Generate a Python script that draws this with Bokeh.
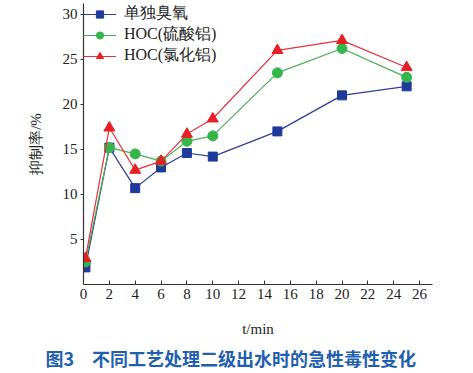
from bokeh.plotting import figure
from bokeh.models import FixedTicker, Range1d, Title
from bokeh.embed import file_html
from bokeh.resources import INLINE

t = [0.15, 2, 4, 6, 8, 10, 15, 20, 25]
ozone = [1.9, 15.2, 10.7, 13.0, 14.6, 14.2, 17.0, 21.0, 22.0]
hoc_al2so4 = [2.5, 15.2, 14.5, 13.7, 15.9, 16.5, 23.5, 26.2, 23.0]
hoc_alcl3 = [2.9, 17.4, 12.7, 13.7, 16.7, 18.4, 26.0, 27.1, 24.1]
names = ["单独臭氧", "HOC(硫酸铝)", "HOC(氯化铝)"]
x_ticks = list(range(0, 27, 2))
y_ticks = [5, 10, 15, 20, 25, 30]
caption = "图3　不同工艺处理二级出水时的急性毒性变化"

p = figure(width=473, height=373, output_backend="svg", toolbar_location=None,
           x_range=Range1d(0, 27), y_range=Range1d(0, 31.2),
           min_border_left=83, min_border_right=41, min_border_top=3, min_border_bottom=0)
p.outline_line_color = None
p.grid.visible = False
p.background_fill_color = "white"
p.border_fill_color = "white"

blue_l, blue_m = "#2b3f99", "#1f3a9a"
green_l, green_m = "#4aae55", "#36b54a"
red_l, red_m = "#e8313a", "#e61e26"

p.line(t, ozone, color=blue_l, line_width=1.2, legend_label=names[0])
p.scatter(t, ozone, marker="square", size=9, fill_color=blue_m, line_color=blue_m, legend_label=names[0])
p.line(t, hoc_al2so4, color=green_l, line_width=1.2, legend_label=names[1])
p.scatter(t, hoc_al2so4, marker="circle", size=10, fill_color=green_m, line_color=green_m, legend_label=names[1])
p.line(t, hoc_alcl3, color=red_l, line_width=1.2, legend_label=names[2])
p.scatter(t, hoc_alcl3, marker="triangle", size=11, fill_color=red_m, line_color=red_m, legend_label=names[2])

leg = p.legend[0]
leg.location = "top_left"
leg.margin = 0
leg.padding = 9
leg.spacing = 0
leg.glyph_height = 18
leg.label_height = 18
leg.glyph_width = 33
leg.label_standoff = 8
leg.border_line_color = None
leg.background_fill_alpha = 0
leg.label_text_font = "Liberation Serif"
leg.label_text_font_size = "16px"
leg.label_text_color = "#222222"

for ax in (p.xaxis[0], p.yaxis[0]):
    ax.axis_line_color = "#333333"
    ax.axis_line_width = 1.2
    ax.major_tick_line_color = "#333333"
    ax.minor_tick_line_color = None
    ax.major_label_text_font = "Liberation Serif"
    ax.major_label_text_font_size = "15px"
    ax.major_label_text_color = "#222222"
    ax.axis_label_text_font = "Liberation Serif"
    ax.axis_label_text_font_style = "normal"
    ax.axis_label_text_font_size = "15px"
    ax.axis_label_text_color = "#222222"

p.xaxis.ticker = FixedTicker(ticks=x_ticks)
p.xaxis.major_tick_in = 4
p.xaxis.major_tick_out = 0
p.xaxis.major_label_standoff = 4
p.xaxis.axis_label = "t/min"
p.xaxis.axis_label_standoff = 19

p.yaxis.ticker = FixedTicker(ticks=y_ticks)
p.yaxis.major_tick_in = 0
p.yaxis.major_tick_out = 3
p.yaxis.major_label_standoff = 3
p.yaxis.axis_label = "抑制率/%"
p.yaxis.axis_label_standoff = 16

cap = Title(text=caption, align="left", offset=-38, standoff=6,
            text_font="Noto Sans CJK SC", text_font_style="bold", text_font_size="18px",
            text_color="#1f5fae")
p.add_layout(cap, "below")

open("out.html", "w").write(file_html(p, INLINE))
